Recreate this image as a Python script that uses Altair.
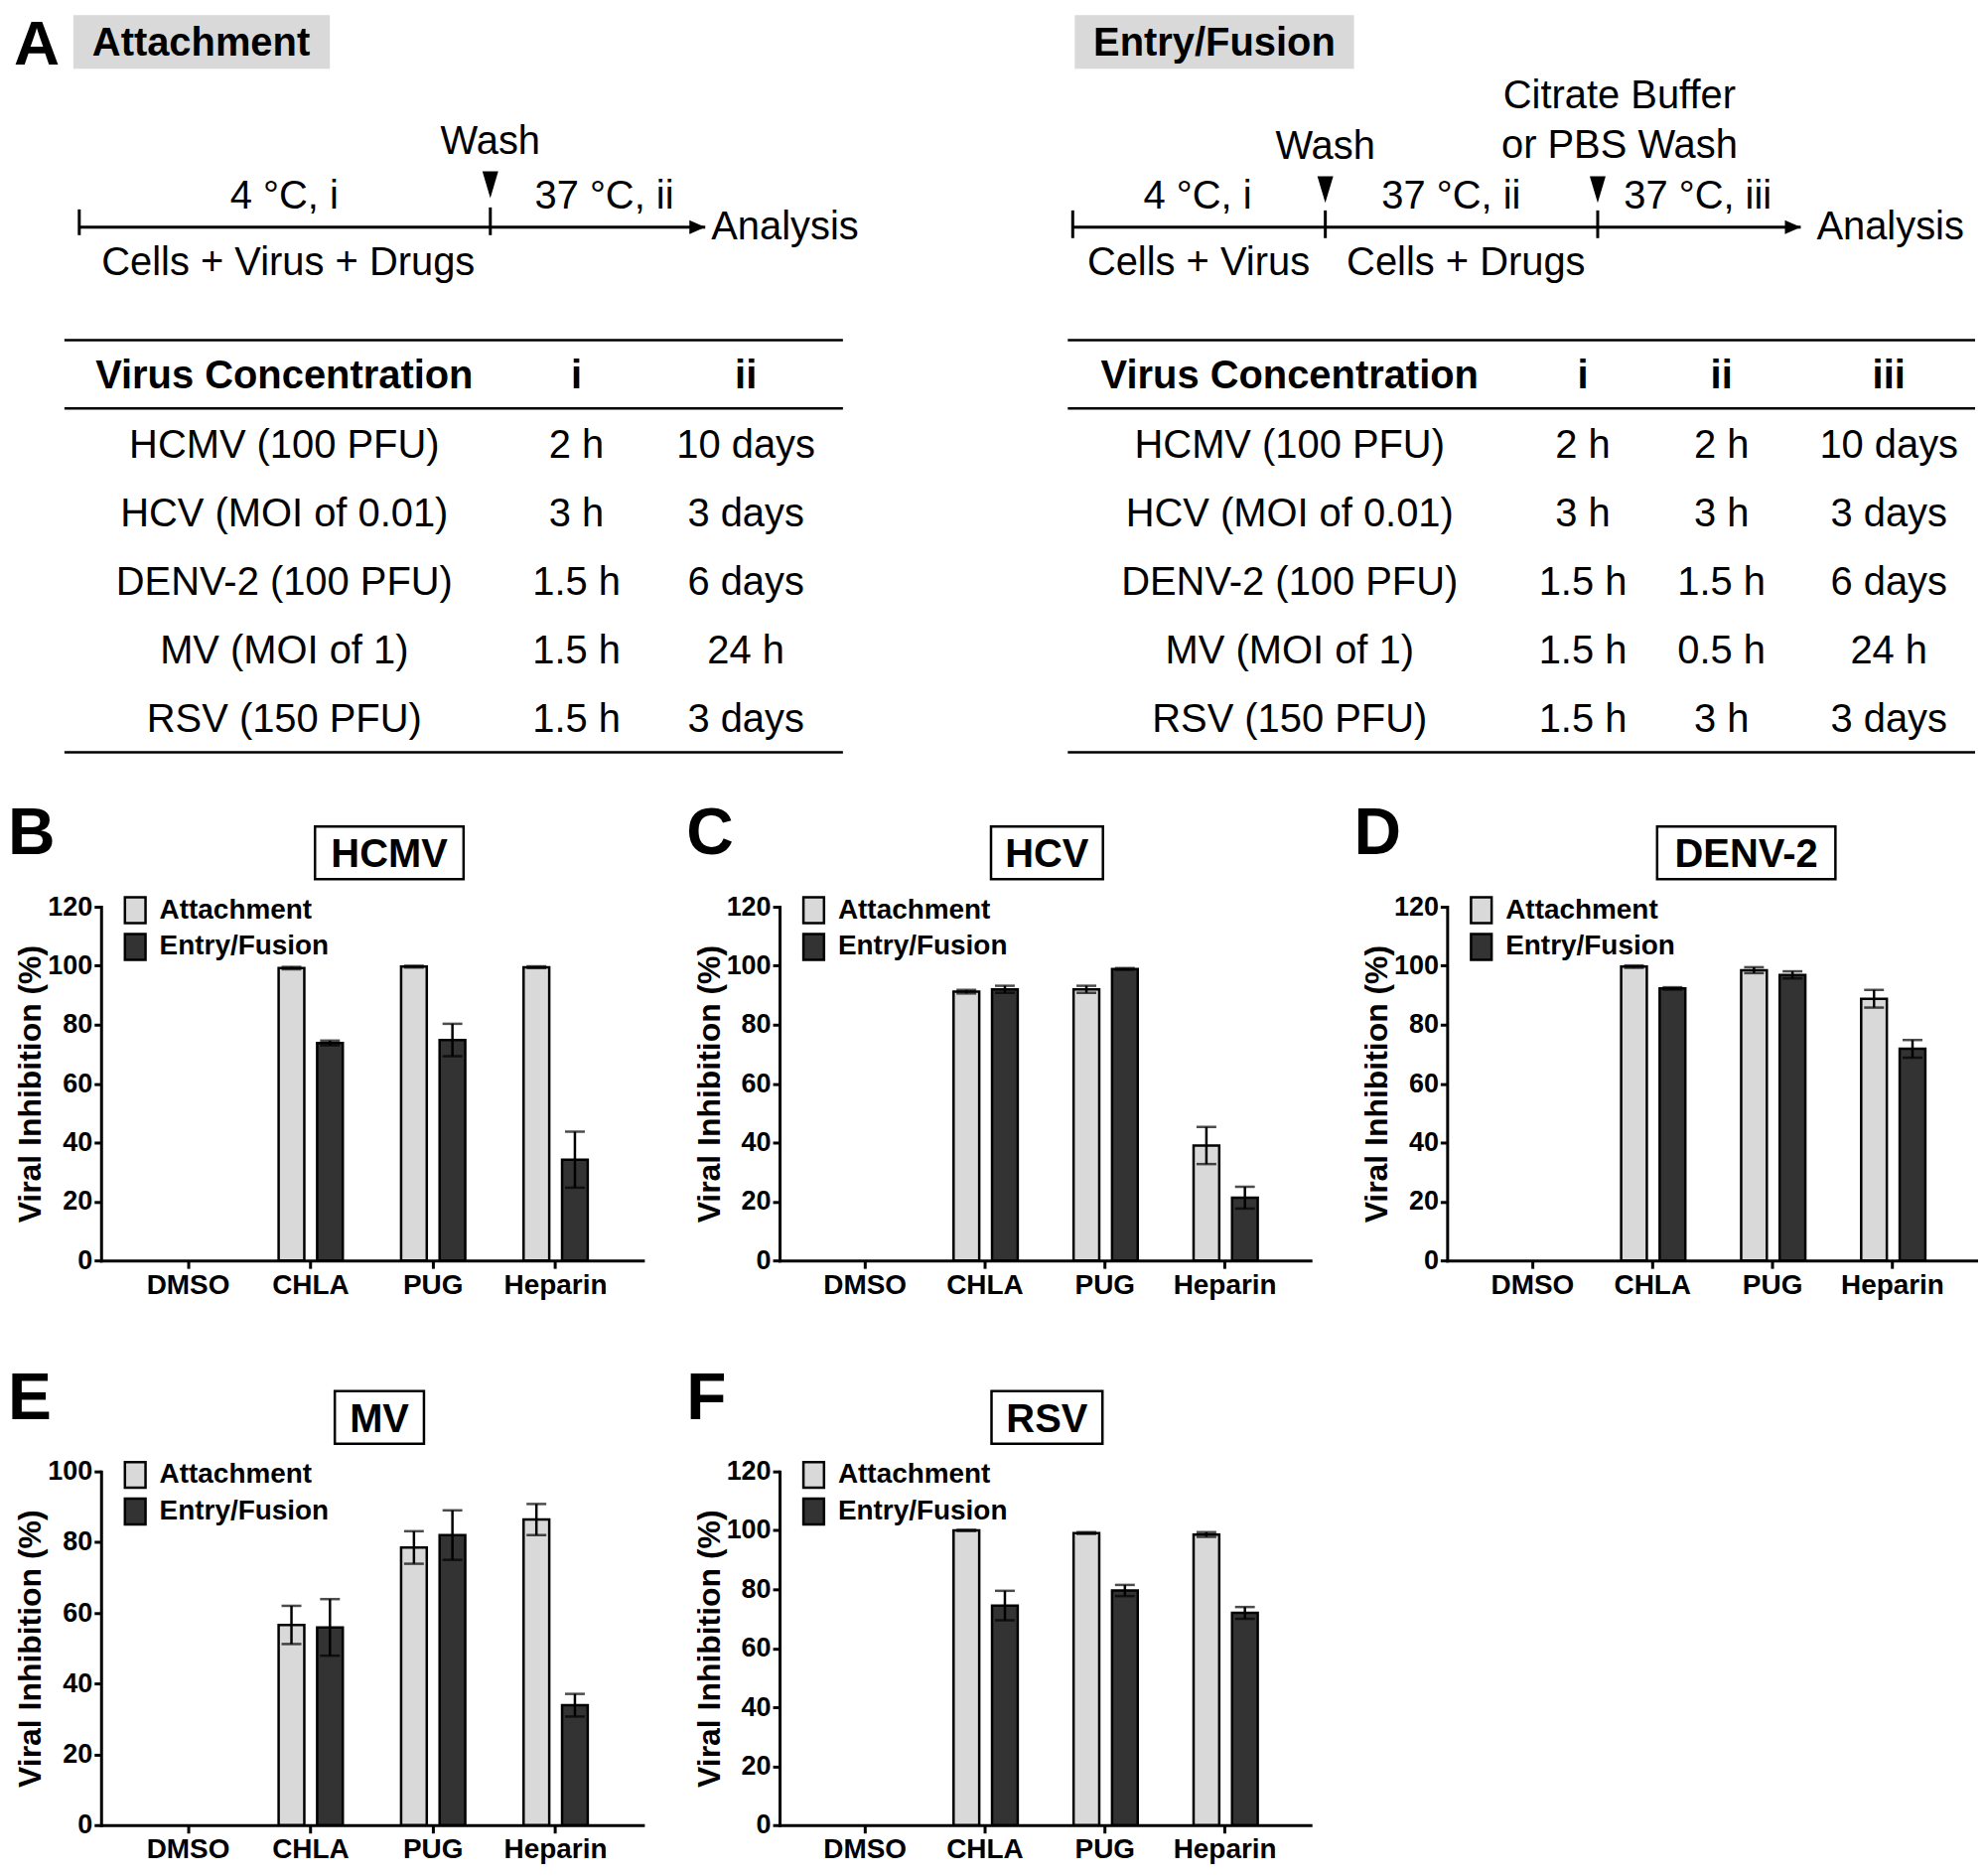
import altair as alt
import pandas as pd

FONT = "Liberation Sans"
LIGHT = "#d9d9d9"
DARK = "#333333"

# ---------------- data ----------------
drugs = ["DMSO", "CHLA", "PUG", "Heparin"]
assays = ["Attachment", "Entry/Fusion"]

hcmv_att = [0, 99.2, 99.7, 99.5]
hcmv_att_err = [0, 0.4, 0.3, 0.3]
hcmv_ent = [0, 73.8, 74.8, 34.2]
hcmv_ent_err = [0, 0.8, 5.5, 9.5]

hcv_att = [0, 91.2, 92.0, 39.0]
hcv_att_err = [0, 0.6, 1.2, 6.3]
hcv_ent = [0, 92.0, 98.9, 21.3]
hcv_ent_err = [0, 1.2, 0.3, 3.7]

denv_att = [0, 99.7, 98.5, 88.8]
denv_att_err = [0, 0.4, 1.0, 3.0]
denv_ent = [0, 92.3, 96.9, 71.8]
denv_ent_err = [0, 0.4, 1.2, 3.0]

mv_att = [0, 56.6, 78.5, 86.4]
mv_att_err = [0, 5.4, 4.6, 4.4]
mv_ent = [0, 55.9, 82.0, 33.9]
mv_ent_err = [0, 8.0, 7.0, 3.2]

rsv_att = [0, 100.0, 99.1, 98.6]
rsv_att_err = [0, 0.2, 0.3, 0.8]
rsv_ent = [0, 74.5, 79.6, 72.0]
rsv_ent_err = [0, 5.0, 1.9, 2.0]

viruses = ["HCMV (100 PFU)", "HCV (MOI of 0.01)", "DENV-2 (100 PFU)",
           "MV (MOI of 1)", "RSV (150 PFU)"]
att_header = ["Virus Concentration", "i", "ii"]
att_i = ["2 h", "3 h", "1.5 h", "1.5 h", "1.5 h"]
att_ii = ["10 days", "3 days", "6 days", "24 h", "3 days"]
ent_header = ["Virus Concentration", "i", "ii", "iii"]
ent_i = ["2 h", "3 h", "1.5 h", "1.5 h", "1.5 h"]
ent_ii = ["2 h", "3 h", "1.5 h", "0.5 h", "3 h"]
ent_iii = ["10 days", "3 days", "6 days", "24 h", "3 days"]

att_steps = ["4 °C, i", "37 °C, ii"]
ent_steps = ["4 °C, i", "37 °C, ii", "37 °C, iii"]

# ---------------- top schematic (layout in px units) ----------------
X0 = 92                     # left edge of the bar panels' plot area
X_END = 1984
TOP_W, TOP_H = X_END - X0, 752
XS = alt.Scale(domain=[X0, X_END], nice=False, zero=False)
YS = alt.Scale(domain=[0, TOP_H], nice=False, zero=False, reverse=True)
LINE_Y = 219
HEAD_Y = 370
ROW_Y0, ROW_H = 440, 69
TABLE_LINES = [333, 402, 749]

rules, reg_c, bold_c, left_t, tri_down, arrows, boxes = [], [], [], [], [], [], []

# Attachment timeline
la, lb, le = 70, 485, 702
rules += [dict(x=la, x2=le, y=LINE_Y, y2=LINE_Y, w=3),
          dict(x=la, x2=la, y=201, y2=227, w=3),
          dict(x=lb, x2=lb, y=199, y2=227, w=3)]
tri_down.append(dict(x=lb, y=176))
arrows.append(dict(x=le - 8, y=LINE_Y))
reg_c += [dict(x=lb, y=133, t="Wash"),
          dict(x=277, y=188, t=att_steps[0]),
          dict(x=600, y=188, t=att_steps[1]),
          dict(x=281, y=255, t="Cells + Virus + Drugs")]
left_t.append(dict(x=le + 6, y=LINE_Y, t="Analysis"))

# Entry/Fusion timeline
ra, rb, rc, re_ = 1073, 1328, 1603, 1808
rules += [dict(x=ra, x2=re_, y=LINE_Y, y2=LINE_Y, w=3),
          dict(x=ra, x2=ra, y=202, y2=230, w=3),
          dict(x=rb, x2=rb, y=202, y2=230, w=3),
          dict(x=rc, x2=rc, y=202, y2=230, w=3)]
tri_down += [dict(x=rb, y=181), dict(x=rc, y=181)]
arrows.append(dict(x=re_ - 8, y=LINE_Y))
reg_c += [dict(x=rb, y=138, t="Wash"),
          dict(x=1625, y=87, t="Citrate Buffer"),
          dict(x=1625, y=137, t="or PBS Wash"),
          dict(x=1199, y=188, t=ent_steps[0]),
          dict(x=1455, y=188, t=ent_steps[1]),
          dict(x=1704, y=188, t=ent_steps[2]),
          dict(x=1200, y=255, t="Cells + Virus"),
          dict(x=1470, y=255, t="Cells + Drugs")]
left_t.append(dict(x=re_ + 16, y=LINE_Y, t="Analysis"))

# header boxes
boxes += [dict(x=64, x2=323, y=5, y2=59), dict(x=1075, x2=1357, y=5, y2=59)]
box_titles = [dict(x=193, y=46, t="Attachment"), dict(x=1216, y=46, t="Entry/Fusion")]


def add_table(header, cols, col_x, x_left, x_right):
    for yy in TABLE_LINES:
        rules.append(dict(x=x_left, x2=x_right, y=yy, y2=yy, w=2.5))
    for h, cx in zip(header, col_x):
        bold_c.append(dict(x=cx, y=HEAD_Y, t=h))
    for j, col in enumerate(cols):
        for i, v in enumerate(col):
            reg_c.append(dict(x=col_x[j], y=ROW_Y0 + i * ROW_H, t=v))


add_table(att_header, [viruses, att_i, att_ii], [277, 572, 743], 55, 841)
add_table(ent_header, [viruses, ent_i, ent_ii, ent_iii], [1292, 1588, 1728, 1897], 1068, X_END)


def X(f):
    return alt.X(f, type="quantitative", scale=XS, axis=None)


def Y(f):
    return alt.Y(f, type="quantitative", scale=YS, axis=None)


box_layer = alt.Chart(pd.DataFrame(boxes)).mark_rect(fill=LIGHT).encode(
    x=X("x"), x2="x2", y=Y("y"), y2="y2")
rule_layer = alt.Chart(pd.DataFrame(rules)).mark_rule(color="black").encode(
    x=X("x"), x2="x2", y=Y("y"), y2="y2",
    strokeWidth=alt.StrokeWidth("w:Q", scale=None, legend=None))
tri_layer = alt.Chart(pd.DataFrame(tri_down)).mark_point(
    shape="M-0.533,-0.9L0.533,-0.9L0,0.9Z", size=900, filled=True, color="black", opacity=1
).encode(x=X("x"), y=Y("y"))
arrow_layer = alt.Chart(pd.DataFrame(arrows)).mark_point(
    shape="M-0.533,-0.467L0.533,0L-0.533,0.467Z", size=900, filled=True, color="black", opacity=1
).encode(x=X("x"), y=Y("y"))
reg_layer = alt.Chart(pd.DataFrame(reg_c)).mark_text(
    fontSize=40, color="black", align="center", baseline="middle"
).encode(x=X("x"), y=Y("y"), text="t:N")
bold_layer = alt.Chart(pd.DataFrame(bold_c)).mark_text(
    fontSize=40, fontWeight="bold", color="black", align="center", baseline="middle"
).encode(x=X("x"), y=Y("y"), text="t:N")
left_layer = alt.Chart(pd.DataFrame(left_t)).mark_text(
    fontSize=40, color="black", align="left", baseline="middle"
).encode(x=X("x"), y=Y("y"), text="t:N")
boxtitle_layer = alt.Chart(pd.DataFrame(box_titles)).mark_text(
    fontSize=40, fontWeight="bold", color="black", align="center", baseline="alphabetic"
).encode(x=X("x"), y=Y("y"), text="t:N")
letter_a = alt.Chart(pd.DataFrame([dict(x=4, y=55, t="A")])).mark_text(
    fontSize=64, fontWeight="bold", color="black", align="left", baseline="alphabetic"
).encode(x=X("x"), y=Y("y"), text="t:N")

top = alt.layer(box_layer, rule_layer, tri_layer, arrow_layer, reg_layer, bold_layer,
                left_layer, boxtitle_layer, letter_a).properties(width=TOP_W, height=TOP_H)

# ---------------- bar panels ----------------
PH = 357
LEGEND_SYMBOL = "M-0.8,-1L0.8,-1L0.8,1L-0.8,1Z"


def bar_panel(letter, title, att, att_err, ent, ent_err, ymax, box_cx, box_w, pw):
    rows = []
    for vals, errs, a in ((att, att_err, assays[0]), (ent, ent_err, assays[1])):
        for d, v, e in zip(drugs, vals, errs):
            rows.append(dict(drug=d, assay=a, value=v, lo=v - e, hi=v + e))
    df = pd.DataFrame(rows)
    df = df[df["value"] > 0]

    x = alt.X("drug:N", sort=drugs,
              scale=alt.Scale(domain=drugs, paddingInner=0.476, paddingOuter=0.45),
              axis=alt.Axis(title=None, labelAngle=0, labelFontSize=28, labelFontWeight="bold",
                            labelColor="black", labelPadding=3, tickSize=8, tickWidth=3,
                            tickColor="black", domainColor="black", domainWidth=3,
                            domainCap="square"))
    xo = alt.XOffset("assay:N", sort=assays,
                     scale=alt.Scale(domain=assays, paddingInner=0.333, paddingOuter=0))
    y = alt.Y("value:Q", scale=alt.Scale(domain=[0, ymax], nice=False, zero=True),
              axis=alt.Axis(values=list(range(0, ymax + 1, 20)), grid=False,
                            title="Viral Inhibition (%)", titleFontSize=32,
                            titleFontWeight="bold", titleColor="black", titlePadding=0,
                            labelFontSize=27, labelFontWeight="bold", labelColor="black",
                            labelPadding=2, tickSize=7, tickWidth=3, tickColor="black",
                            domainColor="black", domainWidth=3, domainCap="square"))
    base = alt.Chart(df)
    bars = base.mark_bar(stroke="black", strokeWidth=2.5).encode(
        x=x, xOffset=xo, y=y,
        color=alt.Color("assay:N", sort=assays,
                        scale=alt.Scale(domain=assays, range=[LIGHT, DARK]),
                        legend=alt.Legend(orient="none", legendX=20, legendY=-11, title=None,
                                          direction="vertical", symbolType=LEGEND_SYMBOL,
                                          symbolSize=676, symbolStrokeColor="black",
                                          symbolStrokeWidth=2.5, labelFontSize=28,
                                          labelFontWeight="bold", labelColor="black",
                                          labelOffset=10, labelLimit=400, rowPadding=0,
                                          padding=0)))
    err = base.mark_rule(color="black", strokeWidth=2.5).encode(
        x=x, xOffset=xo, y=alt.Y("lo:Q"), y2="hi:Q")
    cap_hi = base.mark_tick(color="black", thickness=2.5, size=20, orient="horizontal").encode(
        x=x, xOffset=xo, y=alt.Y("hi:Q"))
    cap_lo = base.mark_tick(color="black", thickness=2.5, size=20, orient="horizontal").encode(
        x=x, xOffset=xo, y=alt.Y("lo:Q"))

    lab = alt.Chart(pd.DataFrame({"t": [letter]})).mark_text(
        fontSize=66, fontWeight="bold", color="black", align="left", baseline="alphabetic"
    ).encode(x=alt.value(-94), y=alt.value(-53), text="t:N")
    box = alt.Chart(pd.DataFrame({"t": [title]})).mark_rect(
        fill="white", stroke="black", strokeWidth=2.5
    ).encode(x=alt.value(box_cx - box_w / 2), x2=alt.value(box_cx + box_w / 2),
             y=alt.value(-81), y2=alt.value(-28))
    ttl = alt.Chart(pd.DataFrame({"t": [title]})).mark_text(
        fontSize=40, fontWeight="bold", color="black", align="center", baseline="alphabetic"
    ).encode(x=alt.value(box_cx), y=alt.value(-40), text="t:N")

    return alt.layer(bars, err, cap_hi, cap_lo, lab, box, ttl).properties(width=pw, height=PH)


pB = bar_panel("B", "HCMV", hcmv_att, hcmv_att_err, hcmv_ent, hcmv_ent_err, 120, 291, 150, 547)
pC = bar_panel("C", "HCV", hcv_att, hcv_att_err, hcv_ent, hcv_ent_err, 120, 270, 113, 536)
pD = bar_panel("D", "DENV-2", denv_att, denv_att_err, denv_ent, denv_ent_err, 120, 302, 180, 536)
pE = bar_panel("E", "MV", mv_att, mv_att_err, mv_ent, mv_ent_err, 100, 281, 90, 547)
pF = bar_panel("F", "RSV", rsv_att, rsv_att_err, rsv_ent, rsv_ent_err, 120, 270, 112, 536)

grid = alt.concat(pB, pC, pD, pE, pF, columns=3, align="each",
                  spacing={"row": 68, "column": 44}).resolve_scale(
    x="independent", y="independent", color="independent"
).resolve_legend(color="independent")

chart = alt.vconcat(top, grid, spacing=47).resolve_scale(
    x="independent", y="independent", color="independent"
).properties(padding=0).configure(font=FONT, background="white").configure_view(stroke=None)

chart.save("out.html", embed_options={"renderer": "svg", "actions": False})
